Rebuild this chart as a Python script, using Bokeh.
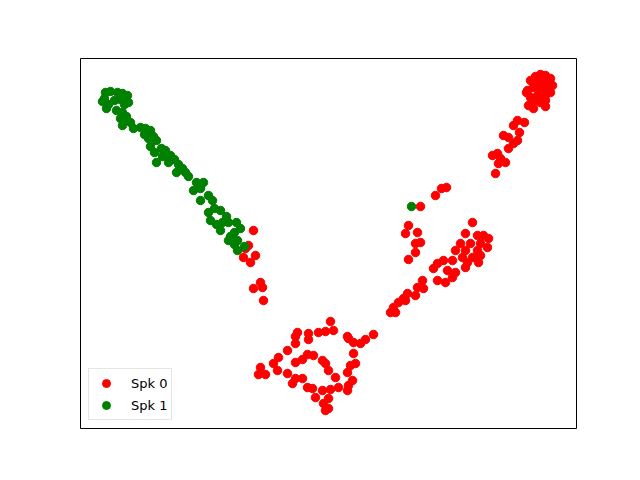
from bokeh.plotting import figure
from bokeh.models import Legend, LegendItem, ColumnDataSource
from bokeh.embed import file_html
from bokeh.resources import INLINE

# Coordinates (arbitrary embedding units)
spk0_x = [253, 245, 248, 255, 250, 243, 260, 253, 262, 263,
          530, 535, 540, 545, 550, 552, 548, 540, 533, 527, 537, 545, 550, 530, 540, 535, 526, 545, 528, 533, 545, 538, 543, 548,
          517, 524, 513, 519, 503, 508, 517, 513, 508, 492, 497, 500, 505, 498, 495,
          446, 441, 435, 420, 472,
          408, 405, 417, 415, 420, 415, 408,
          465, 477, 483, 488, 460, 470, 480, 487, 455, 465, 477, 462, 472, 480, 467, 478, 465,
          452, 443, 437, 433, 447, 455, 452, 445, 437, 422, 417, 423, 415, 407, 403, 398, 405, 393, 390, 395,
          330, 333, 325, 318, 308, 308, 297, 295, 295, 287, 278, 273, 277, 260, 258, 265, 287, 295, 292, 302,
          307, 312, 315, 323, 325, 328, 328, 322, 330, 338, 347, 352, 348, 347, 350, 355, 353, 335, 328, 325,
          322, 313, 307, 302, 295, 348, 353, 360, 365, 373, 347]
spk0_y = [230, 248, 245, 255, 262, 257, 282, 288, 287, 300,
          80, 76, 74, 75, 78, 85, 90, 88, 87, 90, 95, 95, 92, 97, 102, 100, 92, 100, 105, 108, 106, 82, 83, 82,
          120, 122, 125, 132, 135, 137, 140, 143, 148, 155, 153, 158, 162, 163, 173,
          187, 188, 195, 206, 222,
          225, 233, 232, 243, 242, 252, 259,
          233, 235, 235, 238, 243, 243, 243, 247, 250, 250, 250, 257, 257, 255, 262, 262, 267,
          260, 260, 263, 268, 270, 272, 277, 282, 280, 280, 287, 288, 295, 293, 298, 302, 300, 307, 312, 312,
          321, 330, 331, 332, 333, 339, 332, 336, 343, 350, 357, 363, 370, 367, 374, 374, 373, 378, 383, 378,
          387, 388, 397, 403, 410, 408, 398, 390, 389, 387, 390, 380, 385, 372, 365, 363, 353, 377, 370, 363,
          360, 355, 354, 359, 362, 338, 342, 343, 339, 334, 336]
spk1_x = [105, 110, 117, 122, 127, 104, 102, 108, 114, 120, 124, 128, 106, 116, 122, 126, 120, 124, 130, 122,
          133, 140, 145, 150, 144, 148, 153, 156, 150, 154, 161, 165, 162, 170, 174, 168, 178, 182, 176, 185,
          188, 156, 196, 203, 193, 200, 208, 200, 212, 214, 208, 220, 226, 210, 216, 222, 228, 236, 220, 230,
          234, 228, 237, 240, 234, 244, 237, 411]
spk1_y = [92, 91, 92, 93, 95, 98, 101, 104, 100, 99, 104, 102, 108, 110, 112, 116, 118, 120, 122, 125,
          128, 127, 128, 130, 134, 138, 136, 140, 146, 152, 148, 150, 156, 155, 159, 162, 164, 168, 172, 172,
          176, 162, 182, 182, 190, 188, 195, 200, 200, 208, 212, 210, 216, 220, 224, 222, 222, 222, 230, 236,
          232, 240, 240, 228, 244, 246, 250, 206]

H = 480
s0 = ColumnDataSource(dict(x=spk0_x, y=[H - v for v in spk0_y]))
s1 = ColumnDataSource(dict(x=spk1_x, y=[H - v for v in spk1_y]))

p = figure(width=624, height=464, output_backend="svg", toolbar_location=None,
           x_range=(80, 576), y_range=(52, 422),
           min_border_left=80, min_border_right=48, min_border_top=58, min_border_bottom=36)
p.xaxis.visible = False
p.yaxis.visible = False
p.xgrid.visible = False
p.ygrid.visible = False
p.outline_line_color = "black"
p.outline_line_width = 1
p.outline_line_alpha = 1

r0 = p.scatter("x", "y", source=s0, marker="circle", size=8.5, fill_color="red", line_color="red")
r1 = p.scatter("x", "y", source=s1, marker="circle", size=8.5, fill_color="green", line_color="green")

legend = Legend(items=[LegendItem(label="Spk 0", renderers=[r0]),
                       LegendItem(label="Spk 1", renderers=[r1])],
                location="bottom_left", margin=8, padding=4, spacing=2,
                label_text_font="DejaVu Sans", label_text_font_size="13px",
                label_text_color="black",
                glyph_width=26, glyph_height=20, label_standoff=12,
                border_line_color="#cccccc", border_line_width=1,
                background_fill_alpha=0.8)
p.add_layout(legend)

open("out.html", "w").write(file_html(p, INLINE))
